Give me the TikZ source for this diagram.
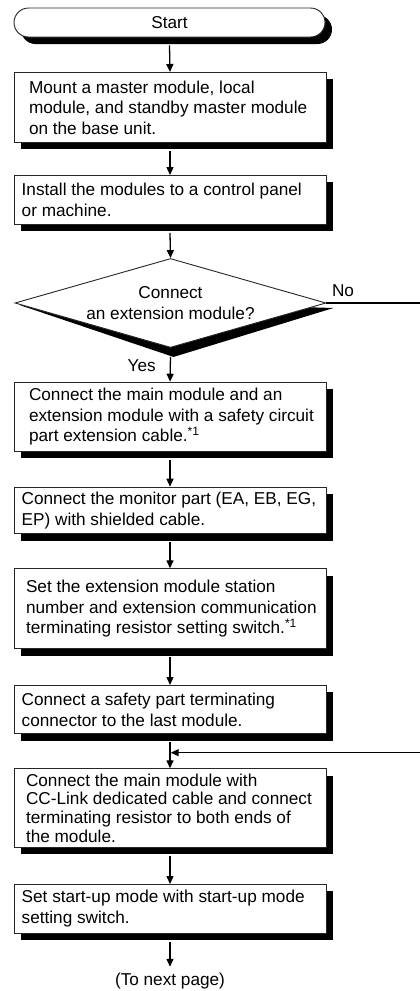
\documentclass[tikz,border=0pt]{standalone}
\usepackage{fontspec}
\setmainfont{Liberation Sans}
\usetikzlibrary{shapes.geometric,arrows.meta,shadows}
\pgfdeclarelayer{bg}
\pgfsetlayers{bg,main}
\newcommand{\boxtxt}[2]{\hspace*{#1pt}\parbox{\dimexpr312pt-#1pt\relax}{\raggedright #2}}
\begin{document}
\begin{tikzpicture}[x=1pt,y=-1pt,
  every node/.style={font=\fontsize{17.2pt}{20.6pt}\selectfont, text=black},
  shad/.style={drop shadow={shadow xshift=7pt, shadow yshift=-7pt, opacity=1, fill=black}},
  stepbox/.style={draw=black!85, line width=0.9pt, fill=white, inner sep=0pt,
     minimum width=312pt, anchor=north, shad},
  arr/.style={line width=1.3pt, -{Triangle[length=8pt,width=7pt]}},
  conn/.style={line width=1.3pt}]
\useasboundingbox (0,0) rectangle (420,991);
\coordinate (edgeR) at (420,0);

\node[draw=black!85, line width=0.9pt, fill=white, rounded corners=14.5pt,
  minimum width=311pt, minimum height=29pt, inner sep=0pt, shad] (start) at (169.5,22.5) {Start};

\node[stepbox, minimum height=70pt] (b1) at (170,72)
  {\boxtxt{15}{Mount a master module, local\\module, and standby master module\\on the base unit.}};
\node[stepbox, minimum height=49pt] (b2) at (170,175)
  {\boxtxt{7.7}{Install the modules to a control panel\\or machine.}};

\node[diamond, draw=black!85, line width=0.9pt, fill=white, minimum width=311pt,
  minimum height=89pt, inner sep=0pt, aspect=3.5, align=center] (dia) at (170.5,303)
  {Connect\\an extension module?};
\begin{pgfonlayer}{bg}
\fill[black] ([shift={(5pt,-2pt)}]dia.west) -- ([shift={(3pt,-9pt)}]dia.south)
  -- ([shift={(7pt,-5pt)}]dia.east) -- (dia.center) -- cycle;
\end{pgfonlayer}

\node[stepbox, minimum height=69pt] (b3) at (170,381.7)
  {\boxtxt{15}{Connect the main module and an\\extension module with a safety circuit\\part extension cable.\textsuperscript{*1}}};
\node[stepbox, minimum height=46.6pt] (b4) at (170,486.7)
  {\boxtxt{7.7}{Connect the monitor part (EA, EB, EG,\\EP) with shielded cable.}};
\node[stepbox, minimum height=80pt] (b5) at (170,568.3)
  {\boxtxt{12}{Set the extension module station\\number and extension communication\\terminating resistor setting switch.\textsuperscript{*1}}};
\node[stepbox, minimum height=48.3pt] (b6) at (170,685)
  {\boxtxt{7.7}{Connect a safety part terminating\\connector to the last module.}};
\node[stepbox, minimum height=78.4pt] (b7) at (170,768.3)
  {\boxtxt{12}{\fontsize{17.2pt}{18.6pt}\selectfont Connect the main module with\\CC-Link dedicated cable and connect\\terminating resistor to both ends of\\the module.}};
\node[stepbox, minimum height=48.7pt] (b8) at (170,884)
  {\boxtxt{7.7}{Set start-up mode with start-up mode\\setting switch.}};

\node (next) at (170,981) [inner sep=2pt] {(To next page)};
\node (no) at (343,290.7) {No};
\node (yes) at (141.7,366) {Yes};

\coordinate (j) at ([yshift=15.6pt]b7.north);

\draw[arr] ([yshift=-8pt]start.south) -- (b1.north);
\draw[arr] ([yshift=-8pt]b1.south) -- (b2.north);
\draw[arr] ([yshift=-8pt]b2.south) -- (dia.north);
\draw[arr] ([yshift=-9pt]dia.south) -- (b3.north);
\draw[arr] ([yshift=-8pt]b3.south) -- (b4.north);
\draw[arr] ([yshift=-8pt]b4.south) -- (b5.north);
\draw[arr] ([yshift=-8pt]b5.south) -- (b6.north);
\draw[arr] ([yshift=-8pt]b6.south) -- (b7.north);
\draw[arr] ([yshift=-8pt]b7.south) -- (b8.north);
\draw[arr, shorten >=4pt] ([yshift=-8pt]b8.south) -- (next.north);

\draw[conn] (dia.east) -- (dia.east -| edgeR);
\draw[arr, shorten >=0.7pt] (j -| edgeR) -- (j);
\end{tikzpicture}
\end{document}
